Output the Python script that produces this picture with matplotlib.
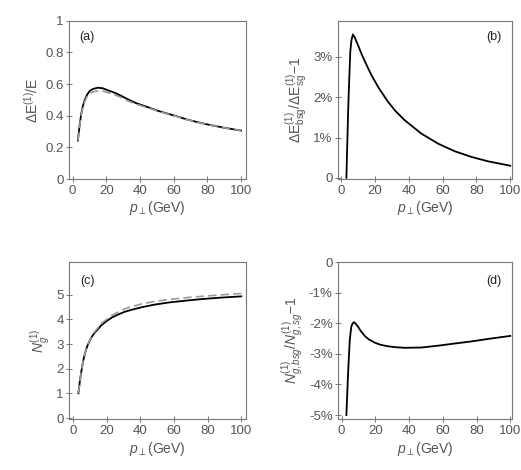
import matplotlib
matplotlib.use("Agg")
import matplotlib.pyplot as plt
from matplotlib.ticker import FuncFormatter

plt.rcParams['font.family'] = ['Liberation Sans', 'DejaVu Sans']
plt.rcParams['mathtext.fontset'] = 'custom'
plt.rcParams['mathtext.rm'] = 'Liberation Sans'
plt.rcParams['mathtext.it'] = 'Liberation Sans:italic'
plt.rcParams['mathtext.bf'] = 'Liberation Sans:bold'

# (a) energy loss fraction
pt_a = [3.1, 4.0, 5.1, 6.0, 7.1, 8.5, 10.1, 12.0, 15.0, 18.0, 21.0, 25.0, 28.0,
        32.9, 38.0, 44.7, 50.0, 56.6, 62.0, 68.5, 74.0, 80.4, 90.0, 100.0]
dE_solid = [0.243, 0.330, 0.412, 0.460, 0.497, 0.532, 0.556, 0.569, 0.577, 0.573, 0.560,
            0.545, 0.530, 0.503, 0.478, 0.454, 0.433, 0.412, 0.396, 0.374, 0.360, 0.344,
            0.324, 0.306]
dE_dash = [0.243, 0.325, 0.405, 0.452, 0.487, 0.520, 0.540, 0.551, 0.557, 0.555, 0.545,
           0.532, 0.519, 0.493, 0.472, 0.450, 0.431, 0.410, 0.395, 0.373, 0.359, 0.343,
           0.324, 0.306]

# (b) relative difference of energy loss
pt_b = [3.0, 3.5, 4.0, 4.4, 5.3, 6.0, 6.9, 8.0, 9.9, 12.0, 14.5, 17.8, 22.0, 27.6,
        32.0, 37.5, 47.3, 57.2, 67.1, 76.9, 86.8, 100.0]
dE_rel = [0.0, 0.8, 1.6, 2.13, 3.13, 3.42, 3.56, 3.48, 3.29, 3.07, 2.84, 2.55, 2.24, 1.89,
          1.66, 1.43, 1.10, 0.85, 0.66, 0.52, 0.41, 0.30]

# (c) gluon number
pt_c = [3.2, 4.0, 5.1, 6.0, 7.1, 8.5, 10.1, 11.5, 13.1, 17.0, 20.0, 23.0, 27.0, 30.9,
        35.0, 40.8, 48.0, 56.6, 66.0, 76.4, 88.0, 100.0]
Ng_solid = [1.0, 1.45, 1.95, 2.30, 2.62, 2.92, 3.16, 3.33, 3.47, 3.77, 3.93, 4.07, 4.20,
            4.31, 4.39, 4.49, 4.59, 4.68, 4.75, 4.82, 4.88, 4.93]
Ng_dash = [1.0, 1.45, 1.95, 2.30, 2.62, 2.93, 3.18, 3.36, 3.52, 3.84, 4.00, 4.16, 4.30,
           4.43, 4.52, 4.62, 4.72, 4.80, 4.87, 4.93, 4.99, 5.05]

# (d) relative difference of gluon number
pt_d = [2.8, 3.8, 4.8, 5.7, 6.5, 7.3, 8.5, 9.7, 11.5, 13.7, 16.0, 19.6, 23.0, 27.5,
        32.0, 37.4, 47.3, 57.2, 67.0, 77.0, 88.0, 100.0]
Ng_rel = [-5.0, -3.64, -2.55, -2.11, -2.00, -1.96, -2.02, -2.11, -2.26, -2.41, -2.52,
          -2.63, -2.70, -2.75, -2.78, -2.80, -2.79, -2.73, -2.66, -2.59, -2.50, -2.41]

xticks = [0, 20, 40, 60, 80, 100]
xlab = r'$p_{\perp}$(GeV)'
gray = '#555555'

fig = plt.figure(figsize=(5.21, 4.70), dpi=100)
ax_a = fig.add_axes([0.1324, 0.6191, 0.3392, 0.3368])
ax_b = fig.add_axes([0.6493, 0.6191, 0.3340, 0.3368])
ax_c = fig.add_axes([0.1330, 0.1079, 0.3386, 0.3340])
ax_d = fig.add_axes([0.6493, 0.1079, 0.3340, 0.3340])

pct = FuncFormatter(lambda v, p: '0' if abs(v) < 1e-9 else '%d%%' % round(v * 100))


def style(ax):
    for s in ax.spines.values():
        s.set_color('#777777')
        s.set_linewidth(0.8)
    ax.tick_params(direction='inout', length=4, width=0.7, color='#777777',
                   labelsize=9.5, labelcolor=gray, pad=2)
    ax.set_xticks(xticks)
    ax.set_xlabel(xlab, fontsize=10, color=gray, labelpad=2)


ax_a.plot(pt_a, dE_solid, color='black', lw=1.3)
ax_a.plot(pt_a, dE_dash, color='#999999', lw=1.2, ls=(0, (5, 2.5)))
ax_a.set_xlim(-2.2, 102.8)
ax_a.set_ylim(0, 1)
ax_a.set_yticks([0, 0.2, 0.4, 0.6, 0.8, 1])
ax_a.set_yticklabels(['0', '0.2', '0.4', '0.6', '0.8', '1'])
ax_a.set_ylabel(r'$\Delta\mathrm{E}^{(1)}/\mathrm{E}$', fontsize=10, color=gray, labelpad=3)
ax_a.text(0.06, 0.9, '(a)', transform=ax_a.transAxes, fontsize=9, color='#222222', va='center')
style(ax_a)

ax_b.plot(pt_b, [v / 100 for v in dE_rel], color='black', lw=1.3)
ax_b.set_xlim(-1.8, 101.2)
ax_b.set_ylim(-0.0003, 0.039)
ax_b.set_yticks([0, 0.01, 0.02, 0.03])
ax_b.yaxis.set_major_formatter(pct)
ax_b.set_ylabel(r'$\Delta\mathrm{E}^{(1)}_{\mathrm{bsg}}/\Delta\mathrm{E}^{(1)}_{\mathrm{sg}}{-}1$',
                fontsize=10, color=gray, labelpad=3)
ax_b.text(0.94, 0.9, '(b)', transform=ax_b.transAxes, fontsize=9, color='#222222',
          va='center', ha='right')
style(ax_b)

ax_c.plot(pt_c, Ng_solid, color='black', lw=1.3)
ax_c.plot(pt_c, Ng_dash, color='#999999', lw=1.2, ls=(0, (5, 2.5)))
ax_c.set_xlim(-2.2, 102.6)
ax_c.set_ylim(-0.05, 6.31)
ax_c.set_yticks([0, 1, 2, 3, 4, 5])
ax_c.set_ylabel(r'$N_g^{(1)}$', fontsize=10, color=gray, labelpad=3)
ax_c.text(0.06, 0.88, '(c)', transform=ax_c.transAxes, fontsize=9, color='#222222', va='center')
style(ax_c)

ax_d.plot(pt_d, [v / 100 for v in Ng_rel], color='black', lw=1.3)
ax_d.set_xlim(-2.0, 101.2)
ax_d.set_ylim(-0.0514, 0)
ax_d.set_yticks([0, -0.01, -0.02, -0.03, -0.04, -0.05])
ax_d.yaxis.set_major_formatter(pct)
ax_d.set_ylabel(r'$N^{(1)}_{g,bsg}/N^{(1)}_{g,sg}{-}1$', fontsize=10, color=gray, labelpad=3)
ax_d.text(0.94, 0.88, '(d)', transform=ax_d.transAxes, fontsize=9, color='#222222',
          va='center', ha='right')
style(ax_d)

fig.savefig('out.png', dpi=100)
